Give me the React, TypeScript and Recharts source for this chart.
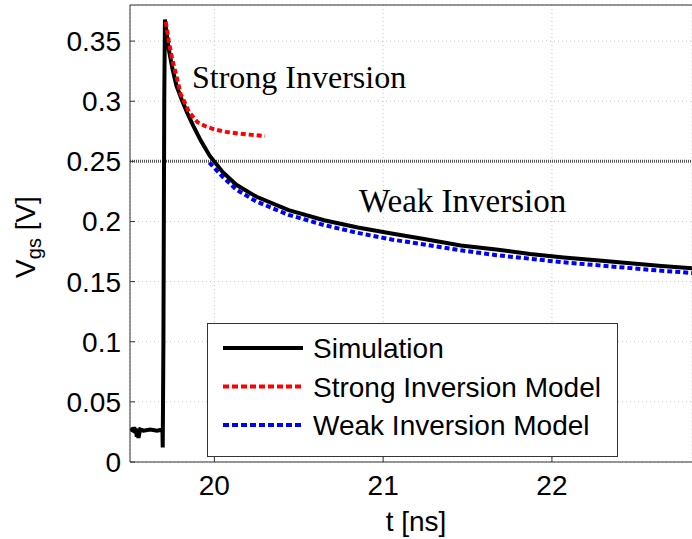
import {
  LineChart,
  Line,
  XAxis,
  YAxis,
  CartesianGrid,
  ReferenceLine,
  Legend,
  Label,
} from 'recharts';

// simulated gate-source voltage, t in ns, Vgs in V
const simTime = [
  19.5, 19.51, 19.52, 19.525, 19.53, 19.535, 19.54, 19.545, 19.55, 19.56, 19.58, 19.62, 19.66,
  19.692, 19.694, 19.698, 19.703, 19.707, 19.715, 19.73, 19.75, 19.775, 19.806, 19.84, 19.875,
  19.92, 19.973, 20.05, 20.13, 20.25, 20.44, 20.65, 20.85, 21.05, 21.26, 21.46, 21.67, 21.87,
  22.07, 22.28, 22.48, 22.65, 22.85,
];
const simVgs = [
  0.026, 0.027, 0.026, 0.029, 0.025, 0.028, 0.021, 0.027, 0.02, 0.027, 0.026, 0.027, 0.026,
  0.027, 0.012, 0.1, 0.3, 0.368, 0.358, 0.343, 0.328, 0.313, 0.3015, 0.29, 0.2795, 0.267, 0.2545,
  0.241, 0.2305, 0.2205, 0.2095, 0.201, 0.195, 0.19, 0.185, 0.18, 0.1767, 0.173, 0.17, 0.1675,
  0.165, 0.163, 0.161,
];

const strongTime = [19.712, 19.73, 19.75, 19.775, 19.8, 19.85, 19.9, 19.95, 20.0, 20.07, 20.15, 20.22, 20.3];
const strongVgs = [0.366, 0.35, 0.335, 0.321, 0.306, 0.291, 0.2825, 0.279, 0.2765, 0.2745, 0.273, 0.272, 0.271];

const weakTime = [
  19.97, 20.05, 20.13, 20.25, 20.44, 20.65, 20.85, 21.05, 21.26, 21.46, 21.67, 21.87, 22.07,
  22.28, 22.48, 22.65, 22.85,
];
const weakVgs = [
  0.249, 0.237, 0.2265, 0.2165, 0.2055, 0.197, 0.1905, 0.185, 0.1805, 0.176, 0.172, 0.169, 0.166,
  0.1635, 0.161, 0.159, 0.157,
];

const xTicks = [20, 21, 22];
const yTicks = [0, 0.05, 0.1, 0.15, 0.2, 0.25, 0.3, 0.35];

const toPoints = (ts: number[], vs: number[]) => ts.map((t, i) => ({ t, v: vs[i] }));

const series = [
  { name: 'Simulation', data: toPoints(simTime, simVgs), color: '#000000', dash: undefined },
  { name: 'Strong Inversion Model', data: toPoints(strongTime, strongVgs), color: '#ff0000', dash: '5 3' },
  { name: 'Weak Inversion Model', data: toPoints(weakTime, weakVgs), color: '#0000ff', dash: '5 3' },
];

const sans = "'Liberation Sans', Arial, sans-serif";
const serif = "'Liberation Serif', 'Times New Roman', serif";

function LegendBox() {
  return (
    <svg width={411} height={134} style={{ display: 'block' }}>
      <rect x={0.5} y={0.5} width={410} height={133} fill="#fff" stroke="#333" />
      {series.map((s, i) => {
        const cy = 25 + i * 38.5;
        return (
          <g key={s.name}>
            <line
              x1={16}
              x2={96}
              y1={cy}
              y2={cy}
              stroke={s.color}
              strokeWidth={4}
              strokeDasharray={s.dash ? '6 3' : undefined}
            />
            <text x={106} y={cy} dy="0.36em" fontSize={28} fontFamily={sans} fill="#000">
              {s.name}
            </text>
          </g>
        );
      })}
    </svg>
  );
}

function YLabel() {
  return (
    <text
      x={35}
      y={237}
      transform="rotate(-90, 35, 237)"
      textAnchor="middle"
      fontSize={28}
      fontFamily={sans}
      fill="#000"
    >
      V
      <tspan dy={6} fontSize={20}>gs</tspan>
      <tspan dy={-6}> [V]</tspan>
    </text>
  );
}

export default function App() {
  return (
    <div style={{ position: 'absolute', left: 0, top: 0, background: '#fff' }}>
      <LineChart width={692} height={539} margin={{ top: 5, right: 0, bottom: 0, left: 0 }}>
        <CartesianGrid stroke="#c4c4c4" strokeDasharray="1 3" />
        <XAxis
          dataKey="t"
          type="number"
          domain={[19.5, 22.83]}
          allowDataOverflow
          ticks={xTicks}
          height={77}
          tickSize={-5}
          tickMargin={18}
          tick={{ fontSize: 28, fontFamily: sans, fill: '#000' }}
          stroke="#333"
        >
          <Label
            value="t [ns]"
            position="insideBottom"
            offset={8}
            dx={5}
            style={{ fontSize: 28, fontFamily: sans, fill: '#000' }}
          />
        </XAxis>
        <YAxis
          type="number"
          domain={[0, 0.38]}
          allowDataOverflow
          ticks={yTicks}
          width={130}
          tickSize={-5}
          tickMargin={14}
          tickFormatter={(v: number) => String(+v.toFixed(2))}
          tick={{ fontSize: 28, fontFamily: sans, fill: '#000' }}
          stroke="#333"
        >
          <Label content={() => <YLabel />} />
        </YAxis>
        <ReferenceLine y={0.38} stroke="#333" />
        <ReferenceLine y={0.25} stroke="#555" strokeWidth={3} strokeDasharray="1 1" />
        {series.map((s) => (
          <Line
            key={s.name}
            data={s.data}
            dataKey="v"
            name={s.name}
            type="linear"
            stroke={s.color}
            strokeWidth={4}
            strokeDasharray={s.dash}
            dot={false}
            isAnimationActive={false}
          />
        ))}
        <Legend
          layout="horizontal"
          verticalAlign="middle"
          align="center"
          content={() => <LegendBox />}
          wrapperStyle={{ position: 'absolute', left: 207, top: 323, width: 411, height: 134 }}
        />
        <text x={192} y={88} fontSize={32} fontFamily={serif} fill="#000">
          Strong Inversion
        </text>
        <text x={359} y={212} fontSize={33} fontFamily={serif} fill="#000">
          Weak Inversion
        </text>
      </LineChart>
    </div>
  );
}
